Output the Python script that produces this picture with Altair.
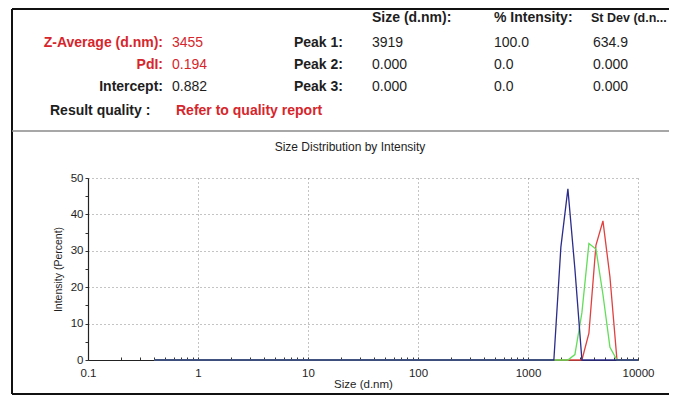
import altair as alt
import pandas as pd

# ---------------- data ----------------
sizes = [0.4, 1718, 1990, 2305, 2669, 3091, 3580, 4145, 4801, 5560, 6439, 7456, 10000]
record_red = [0, 0, 0, 0, 0, 0, 7.4, 31.5, 38.2, 22.8, 0, 0, 0]
record_green = [0, 0, 0, 0, 1.5, 13, 32, 30.5, 18, 3.5, 0, 0, 0]
record_blue = [0, 0, 31, 47, 25, 0, 0, 0, 0, 0, 0, 0, 0]
record_names = ["Record 1", "Record 2", "Record 3"]
record_colors = ["#e0413f", "#62de58", "#2c2c8c"]

x_decades = [0.1, 1, 10, 100, 1000, 10000]
y_tick_values = [0, 5, 10, 15, 20, 25, 30, 35, 40, 45, 50]

chart_title = "Size Distribution by Intensity"
x_title = "Size (d.nm)"
y_title = "Intensity (Percent)"

summary_labels = ["Z-Average (d.nm):", "PdI:", "Intercept:"]
summary_values = ["3455", "0.194", "0.882"]
peak_labels = ["Peak 1:", "Peak 2:", "Peak 3:"]
peak_headers = ["Size (d.nm):", "% Intensity:", "St Dev (d.n..."]
peak_size = ["3919", "0.000", "0.000"]
peak_intensity = ["100.0", "0.0", "0.0"]
peak_stdev = ["634.9", "0.000", "0.000"]
quality_label = "Result quality :"
quality_value = "Refer to quality report"

# ---------------- build ----------------
FONT = "Liberation Sans"
RED_TXT = "#d6262c"
BLACK_TXT = "#1e1e1e"

df = pd.DataFrame({
    "size": sizes * 3,
    "intensity": record_red + record_green + record_blue,
    "record": [record_names[0]] * len(sizes) + [record_names[1]] * len(sizes) + [record_names[2]] * len(sizes),
})

decade_list = "[" + ",".join(str(v) for v in x_decades) + "]"

x_enc = alt.X(
    "size:Q",
    scale=alt.Scale(type="log", domain=[x_decades[0], x_decades[-1]], nice=False),
    axis=alt.Axis(
        title=x_title,
        tickCount=50,
        format="~g",
        labelExpr=f"indexof({decade_list}, datum.value) >= 0 ? datum.label : ''",
        labelOverlap=False,
        labelFlush=False,
        labelFont=FONT,
        labelFontSize=11.5,
        labelColor=BLACK_TXT,
        labelPadding=10,
        tickSize={"expr": "-3"},
        tickColor="#333",
        domainColor="#222",
        domainWidth=1.2,
        grid=True,
        gridDash=[1, 3],
        gridColor="#888",
        gridWidth=1,
        gridOpacity={"condition": {"test": f"indexof({decade_list}, datum.value) >= 0", "value": 1}, "value": 0},
        titleFont=FONT,
        titleFontSize=11.5,
        titleFontWeight="normal",
        titleColor=BLACK_TXT,
        titleX=275,
        titleY=24,
        titleAlign="center",
        titleBaseline="middle",
    ),
)

y_enc = alt.Y(
    "intensity:Q",
    scale=alt.Scale(domain=[0, 50], nice=False, zero=True),
    axis=alt.Axis(
        title=y_title,
        values=y_tick_values,
        labelExpr="datum.value % 10 == 0 ? datum.label : ''",
        labelFont=FONT,
        labelFontSize=11.5,
        labelColor=BLACK_TXT,
        labelPadding=2,
        tickSize=3,
        tickColor="#333",
        domainColor="#222",
        domainWidth=1.2,
        grid=True,
        gridDash=[1, 3],
        gridColor="#888",
        gridWidth=1,
        gridOpacity={"condition": {"test": "datum.value % 10 == 0 && datum.value > 0", "value": 1}, "value": 0},
        titleFont=FONT,
        titleFontSize=10.5,
        titleFontWeight="normal",
        titleColor=BLACK_TXT,
        titleX=-30,
        titleY=91,
        titleAngle=270,
        titleAlign="center",
        titleBaseline="middle",
    ),
)

layers = []
for name, color in zip(record_names, record_colors):
    layers.append(
        alt.Chart(df)
        .transform_filter(alt.datum.record == name)
        .mark_line(color=color, strokeWidth=1.3)
        .encode(x=x_enc, y=y_enc)
    )

one = pd.DataFrame({"k": [0]})


def text_at(txt, x, y, color=BLACK_TXT, bold=False, size=14, align="left"):
    return alt.Chart(one).mark_text(
        font=FONT, fontSize=size, fontWeight="bold" if bold else "normal",
        color=color, align=align, baseline="middle",
    ).encode(x=alt.value(x), y=alt.value(y), text=alt.value(txt))


def rule_at(x, y, x2, y2, color="#111", width=2):
    return alt.Chart(one).mark_rule(color=color, strokeWidth=width).encode(
        x=alt.value(x), y=alt.value(y), x2=alt.value(x2), y2=alt.value(y2)
    )


# frame and divider (plot-relative pixel offsets)
layers += [
    rule_at(-76, -169, 581, -169),
    rule_at(-76, -169, -76, 216),
    rule_at(-76, 216, 581, 216),
    rule_at(-76, -47, 581, -47, color="#8a8a8a", width=1.5),
]

row_y = [-135, -113, -91]
summary_colors = [RED_TXT, RED_TXT, BLACK_TXT]
for i in range(3):
    layers.append(text_at(summary_labels[i], 75, row_y[i], color=summary_colors[i], bold=True, align="right"))
    layers.append(text_at(summary_values[i], 84, row_y[i], color=summary_colors[i]))
    layers.append(text_at(peak_labels[i], 255, row_y[i], bold=True, align="right"))
    layers.append(text_at(peak_size[i], 284, row_y[i]))
    layers.append(text_at(peak_intensity[i], 406, row_y[i]))
    layers.append(text_at(peak_stdev[i], 505, row_y[i]))

for hdr, hx, hs in zip(peak_headers, [284, 406, 503], [14, 14, 12.5]):
    layers.append(text_at(hdr, hx, -160, bold=True, size=hs))

layers.append(text_at(quality_label, -38, -67, bold=True))
layers.append(text_at(quality_value, 88, -67, color=RED_TXT, bold=True))
layers.append(text_at(chart_title, 262, -31, size=12, align="center"))

chart = (
    alt.layer(*layers)
    .properties(
        width=550,
        height=182,
        autosize=alt.AutoSizeParams(type="none"),
        padding={"left": 80, "top": 170, "right": 31, "bottom": 35},
        background="white",
    )
    .configure_view(stroke=None)
)

chart.save("out.html", embed_options={"renderer": "svg", "actions": False})
